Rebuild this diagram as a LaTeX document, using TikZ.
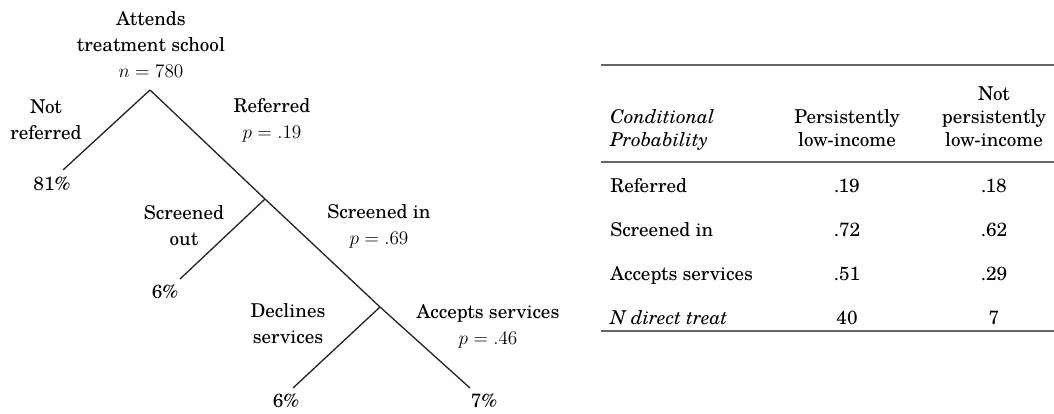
\documentclass[tikz,border=0pt]{standalone}
\usepackage{fontspec}
\setmainfont{TeX Gyre Schola}
\usepackage{amsmath}
\tikzset{every picture/.style={x=0.75pt,y=-0.75pt}}
\tikzset{lbl/.style={align=center,inner sep=0pt,font=\fontsize{14.3}{19.5}\selectfont}}
\tikzset{cell/.style={inner sep=0pt,font=\fontsize{14.3}{17.25}\selectfont}}
\tikzset{branch/.style={line width=1pt,black!85}}
\tikzset{rule/.style={line width=1.4pt,black!60}}

\begin{document}
\begin{tikzpicture}
\useasboundingbox (0,0) rectangle (1054,414);

% tree
\coordinate (a) at (150,90);
\coordinate (b) at (265,199);
\coordinate (c) at (380,307);
\coordinate (l1) at (63,170);
\coordinate (l2) at (180,279);
\coordinate (l3) at (293,388);
\coordinate (l4) at (470,388);

\node [lbl] (top) at (151,44) {Attends\\treatment school\\$n = 780$};
\node [lbl] (notref) at (46,120) {Not\\referred};
\node [lbl] (ref) at (272,120) {Referred\\$p = .19$};
\node [lbl] (out) at (184,226) {Screened\\out};
\node [lbl] (in) at (379,226) {Screened in\\$p = .69$};
\node [lbl] (decl) at (288,324) {Declines\\services};
\node [lbl] (acc) at (488,326) {Accepts services\\$p = .46$};

\node [lbl] (p1) at (52,184) {81\%};
\node [lbl] (p2) at (165,292) {6\%};
\node [lbl] (p3) at (286,401) {6\%};
\node [lbl] (p4) at (484,401) {7\%};

\draw [branch] (a) -- (l1);
\draw [branch] (a) -- (b);
\draw [branch] (b) -- (l2);
\draw [branch] (b) -- (c);
\draw [branch] (c) -- (l3);
\draw [branch] (c) -- (l4);

% table
\coordinate (r1) at (601,65);
\coordinate (r1e) at (1054,65);
\coordinate (r2) at (601,162);
\coordinate (r2e) at (1054,162);
\coordinate (r3) at (601,331);
\coordinate (r3e) at (1054,331);
\draw [rule] (r1) -- (r1e);
\draw [rule] (r2) -- (r2e);
\draw [rule] (r3) -- (r3e);

\node [cell,anchor=west,align=left] (h1) at (610,130) {\itshape Conditional\\\itshape Probability};
\node [cell,align=center] (h2) at (847,128) {Persistently\\low-income};
\node [cell,align=center] (h3) at (994,117) {Not\\persistently\\low-income};

\node [cell,anchor=base west] (n1) at (610,192) {Referred};
\node [cell,anchor=base west] (n2) at (610,236) {Screened in};
\node [cell,anchor=base west] (n3) at (610,280) {Accepts services};
\node [cell,anchor=base west] (n4) at (610,324) {\itshape N direct treat};

\node [cell,anchor=base] (v11) at (847,192) {.19};
\node [cell,anchor=base] (v21) at (847,236) {.72};
\node [cell,anchor=base] (v31) at (847,280) {.51};
\node [cell,anchor=base] (v41) at (847,324) {40};

\node [cell,anchor=base] (v12) at (994,192) {.18};
\node [cell,anchor=base] (v22) at (994,236) {.62};
\node [cell,anchor=base] (v32) at (994,280) {.29};
\node [cell,anchor=base] (v42) at (994,324) {7};
\end{tikzpicture}
\end{document}
